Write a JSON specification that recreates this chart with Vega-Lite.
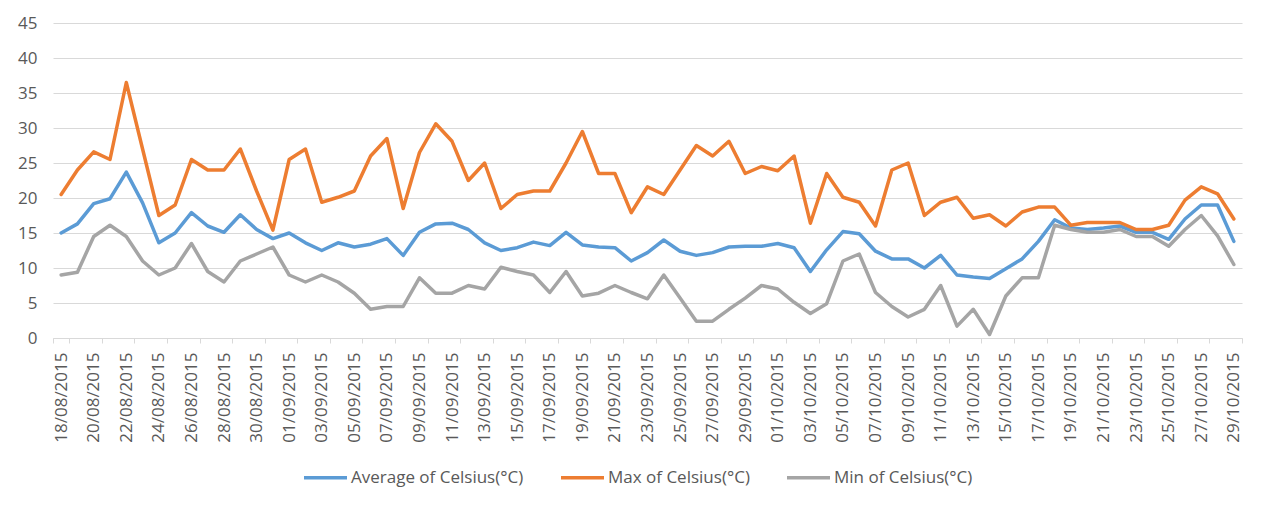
{
  "$schema": "https://vega.github.io/schema/vega-lite/v6.json",
  "width": 1189,
  "height": 315,
  "autosize": {"type": "none"},
  "padding": {"left": 53, "top": 23, "right": 21, "bottom": 180},
  "background": "white",
  "config": {"view": {"stroke": null}, "font": "Open Sans"},
  "data": {"values": [
    {"date": "18/08/2015", "avg": 15.0, "max": 20.5, "min": 9.0},
    {"date": "19/08/2015", "avg": 16.3, "max": 24.0, "min": 9.4},
    {"date": "20/08/2015", "avg": 19.2, "max": 26.6, "min": 14.5},
    {"date": "21/08/2015", "avg": 19.9, "max": 25.5, "min": 16.1},
    {"date": "22/08/2015", "avg": 23.7, "max": 36.5, "min": 14.5},
    {"date": "23/08/2015", "avg": 19.3, "max": 27.0, "min": 11.0},
    {"date": "24/08/2015", "avg": 13.6, "max": 17.5, "min": 9.0},
    {"date": "25/08/2015", "avg": 15.0, "max": 19.0, "min": 10.0},
    {"date": "26/08/2015", "avg": 17.9, "max": 25.5, "min": 13.5},
    {"date": "27/08/2015", "avg": 16.0, "max": 24.0, "min": 9.5},
    {"date": "28/08/2015", "avg": 15.1, "max": 24.0, "min": 8.0},
    {"date": "29/08/2015", "avg": 17.6, "max": 27.0, "min": 11.0},
    {"date": "30/08/2015", "avg": 15.5, "max": 21.0, "min": 12.0},
    {"date": "31/08/2015", "avg": 14.2, "max": 15.4, "min": 13.0},
    {"date": "01/09/2015", "avg": 15.0, "max": 25.5, "min": 9.0},
    {"date": "02/09/2015", "avg": 13.6, "max": 27.0, "min": 8.0},
    {"date": "03/09/2015", "avg": 12.5, "max": 19.4, "min": 9.0},
    {"date": "04/09/2015", "avg": 13.6, "max": 20.1, "min": 8.0},
    {"date": "05/09/2015", "avg": 13.0, "max": 21.0, "min": 6.4},
    {"date": "06/09/2015", "avg": 13.4, "max": 26.0, "min": 4.1},
    {"date": "07/09/2015", "avg": 14.2, "max": 28.5, "min": 4.5},
    {"date": "08/09/2015", "avg": 11.8, "max": 18.5, "min": 4.5},
    {"date": "09/09/2015", "avg": 15.1, "max": 26.5, "min": 8.6},
    {"date": "10/09/2015", "avg": 16.3, "max": 30.6, "min": 6.4},
    {"date": "11/09/2015", "avg": 16.4, "max": 28.1, "min": 6.4},
    {"date": "12/09/2015", "avg": 15.5, "max": 22.5, "min": 7.5},
    {"date": "13/09/2015", "avg": 13.6, "max": 25.0, "min": 7.0},
    {"date": "14/09/2015", "avg": 12.5, "max": 18.5, "min": 10.1},
    {"date": "15/09/2015", "avg": 12.9, "max": 20.5, "min": 9.5},
    {"date": "16/09/2015", "avg": 13.7, "max": 21.0, "min": 9.0},
    {"date": "17/09/2015", "avg": 13.2, "max": 21.0, "min": 6.5},
    {"date": "18/09/2015", "avg": 15.1, "max": 25.0, "min": 9.5},
    {"date": "19/09/2015", "avg": 13.3, "max": 29.5, "min": 6.0},
    {"date": "20/09/2015", "avg": 13.0, "max": 23.5, "min": 6.4},
    {"date": "21/09/2015", "avg": 12.9, "max": 23.5, "min": 7.5},
    {"date": "22/09/2015", "avg": 11.0, "max": 17.9, "min": 6.5},
    {"date": "23/09/2015", "avg": 12.2, "max": 21.6, "min": 5.6},
    {"date": "24/09/2015", "avg": 14.0, "max": 20.5, "min": 9.0},
    {"date": "25/09/2015", "avg": 12.4, "max": 24.0, "min": 5.7},
    {"date": "26/09/2015", "avg": 11.8, "max": 27.5, "min": 2.4},
    {"date": "27/09/2015", "avg": 12.2, "max": 26.0, "min": 2.4},
    {"date": "28/09/2015", "avg": 13.0, "max": 28.1, "min": 4.1},
    {"date": "29/09/2015", "avg": 13.1, "max": 23.5, "min": 5.7},
    {"date": "30/09/2015", "avg": 13.1, "max": 24.5, "min": 7.5},
    {"date": "01/10/2015", "avg": 13.5, "max": 23.9, "min": 7.0},
    {"date": "02/10/2015", "avg": 12.9, "max": 26.0, "min": 5.1},
    {"date": "03/10/2015", "avg": 9.5, "max": 16.4, "min": 3.5},
    {"date": "04/10/2015", "avg": 12.6, "max": 23.5, "min": 4.9},
    {"date": "05/10/2015", "avg": 15.2, "max": 20.1, "min": 11.0},
    {"date": "06/10/2015", "avg": 14.9, "max": 19.4, "min": 12.0},
    {"date": "07/10/2015", "avg": 12.4, "max": 16.0, "min": 6.5},
    {"date": "08/10/2015", "avg": 11.3, "max": 24.0, "min": 4.5},
    {"date": "09/10/2015", "avg": 11.3, "max": 25.0, "min": 3.0},
    {"date": "10/10/2015", "avg": 10.0, "max": 17.5, "min": 4.1},
    {"date": "11/10/2015", "avg": 11.8, "max": 19.4, "min": 7.5},
    {"date": "12/10/2015", "avg": 9.0, "max": 20.1, "min": 1.7},
    {"date": "13/10/2015", "avg": 8.7, "max": 17.1, "min": 4.1},
    {"date": "14/10/2015", "avg": 8.5, "max": 17.6, "min": 0.5},
    {"date": "15/10/2015", "avg": 9.9, "max": 16.0, "min": 6.0},
    {"date": "16/10/2015", "avg": 11.3, "max": 18.0, "min": 8.6},
    {"date": "17/10/2015", "avg": 13.8, "max": 18.7, "min": 8.6},
    {"date": "18/10/2015", "avg": 16.9, "max": 18.7, "min": 16.1},
    {"date": "19/10/2015", "avg": 15.7, "max": 16.1, "min": 15.5},
    {"date": "20/10/2015", "avg": 15.5, "max": 16.5, "min": 15.1},
    {"date": "21/10/2015", "avg": 15.7, "max": 16.5, "min": 15.1},
    {"date": "22/10/2015", "avg": 16.0, "max": 16.5, "min": 15.5},
    {"date": "23/10/2015", "avg": 15.1, "max": 15.5, "min": 14.5},
    {"date": "24/10/2015", "avg": 15.1, "max": 15.5, "min": 14.5},
    {"date": "25/10/2015", "avg": 14.1, "max": 16.1, "min": 13.1},
    {"date": "26/10/2015", "avg": 17.0, "max": 19.7, "min": 15.5},
    {"date": "27/10/2015", "avg": 19.0, "max": 21.6, "min": 17.5},
    {"date": "28/10/2015", "avg": 19.0, "max": 20.6, "min": 14.6},
    {"date": "29/10/2015", "avg": 13.8, "max": 17.0, "min": 10.5}
  ]},
  "transform": [{"fold": ["avg", "max", "min"], "as": ["series", "celsius"]}],
  "mark": {"type": "line", "strokeWidth": 3.5, "strokeJoin": "round", "strokeCap": "round"},
  "encoding": {
    "x": {
      "field": "date", "type": "ordinal", "sort": null,
      "scale": {"paddingInner": 0, "paddingOuter": 0},
      "axis": {
        "title": null, "labelAngle": -90,
        "values": ["18/08/2015","20/08/2015","22/08/2015","24/08/2015","26/08/2015","28/08/2015","30/08/2015","01/09/2015","03/09/2015","05/09/2015","07/09/2015","09/09/2015","11/09/2015","13/09/2015","15/09/2015","17/09/2015","19/09/2015","21/09/2015","23/09/2015","25/09/2015","27/09/2015","29/09/2015","01/10/2015","03/10/2015","05/10/2015","07/10/2015","09/10/2015","11/10/2015","13/10/2015","15/10/2015","17/10/2015","19/10/2015","21/10/2015","23/10/2015","25/10/2015","27/10/2015","29/10/2015"],
        "tickBand": "extent", "tickExtra": false,
        "domainColor": "#D9D9D9", "tickColor": "#D9D9D9", "tickSize": 5,
        "labelColor": "#595959", "labelFontSize": 17, "labelPadding": 9,
        "labelFont": "Open Sans"
      }
    },
    "y": {
      "field": "celsius", "type": "quantitative",
      "scale": {"domain": [0, 45]},
      "axis": {
        "title": null, "values": [0, 5, 10, 15, 20, 25, 30, 35, 40, 45],
        "grid": true, "gridColor": "#D9D9D9", "domain": false, "ticks": false,
        "labelColor": "#595959", "labelFontSize": 17, "labelPadding": 16,
        "labelFont": "Open Sans"
      }
    },
    "color": {
      "field": "series", "type": "nominal",
      "scale": {"domain": ["avg", "max", "min"], "range": ["#5B9BD5", "#ED7D31", "#A5A5A5"]},
      "legend": {
        "title": null, "orient": "none", "legendX": 249, "legendY": 431,
        "direction": "horizontal", "columns": 3,
        "symbolType": "stroke", "symbolSize": 1849, "symbolStrokeWidth": 3.5,
        "labelFontSize": 17, "labelColor": "#595959", "labelFont": "Open Sans",
        "labelLimit": 300, "labelOffset": 2, "columnPadding": 30,
        "labelExpr": "datum.label == 'avg' ? 'Average of Celsius(°C)' : datum.label == 'max' ? 'Max of Celsius(°C)' : 'Min of Celsius(°C)'"
      }
    }
  }
}
